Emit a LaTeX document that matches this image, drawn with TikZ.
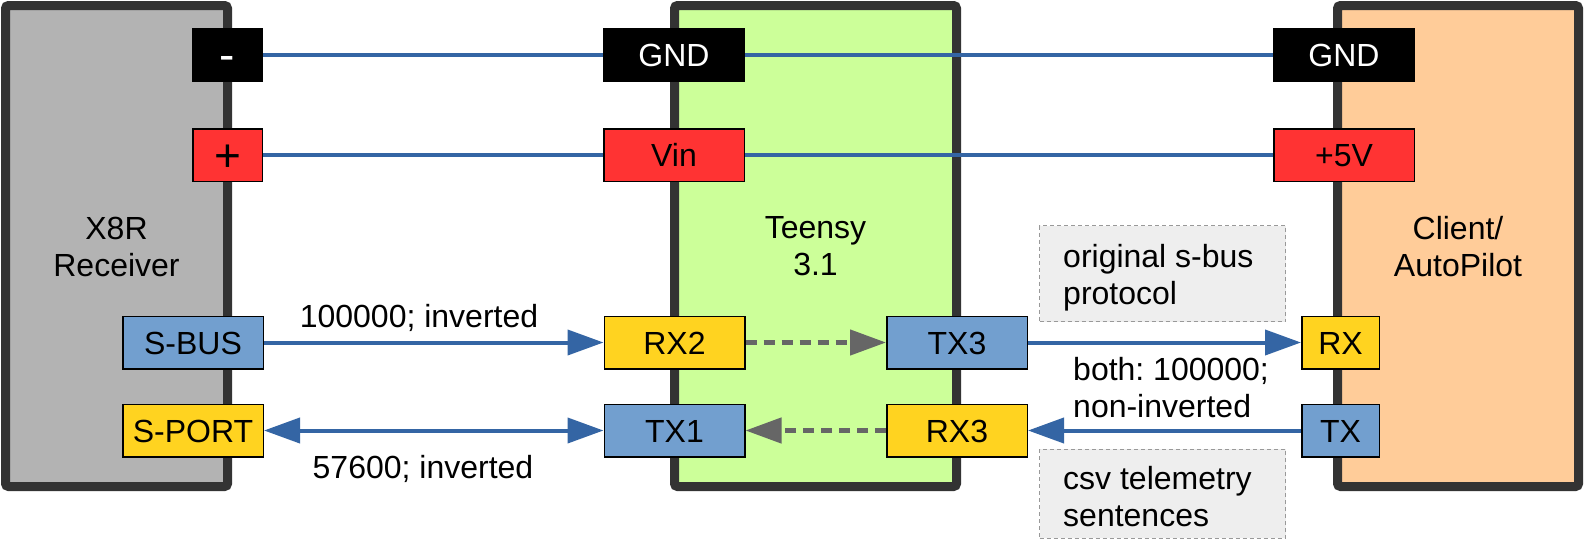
\documentclass[tikz,border=0pt]{standalone}
\usepackage{fontspec}
\setmainfont{Liberation Sans}
\usetikzlibrary{arrows.meta}
\frenchspacing
\definecolor{wire}{HTML}{3465A4}
\definecolor{devborder}{HTML}{333333}
\definecolor{recvfill}{HTML}{B3B3B3}
\definecolor{teensyfill}{HTML}{CCFF99}
\definecolor{clientfill}{HTML}{FFCC99}
\definecolor{portblue}{HTML}{729FCF}
\definecolor{portyellow}{HTML}{FFD320}
\definecolor{portred}{HTML}{FF3333}
\definecolor{dashgray}{HTML}{666666}
\definecolor{notefill}{HTML}{EEEEEE}
\definecolor{noteborder}{HTML}{999999}
\begin{document}
\begin{tikzpicture}[x=1pt,y=-1pt,
  font=\fontsize{32}{37}\selectfont\frenchspacing,
  device/.style={draw=devborder, line width=9pt, rounded corners=3pt, inner sep=0pt,
    minimum width=#1},
  device/.default=222pt,
  devlabel/.style={align=center, inner sep=0pt},
  port/.style={draw=black, line width=1.5pt, inner sep=0pt, minimum height=52.5pt,
    text height=23pt, text depth=0pt},
  bluep/.style={port, fill=portblue},
  yellowp/.style={port, fill=portyellow},
  redp/.style={port, fill=portred},
  blackp/.style={port, fill=black, text=white},
  bigsign/.style={font=\fontsize{46}{50}\selectfont},
  wireline/.style={draw=wire, line width=4pt},
  sigarrow/.style={draw=wire, line width=4pt, -{Triangle[length=36pt,width=25pt]}},
  sigboth/.style={draw=wire, line width=4pt, {Triangle[length=36pt,width=25pt]}-{Triangle[length=36pt,width=25pt]}},
  intarrow/.style={draw=dashgray, line width=4.5pt, dash pattern=on 11pt off 7pt,
    -{Triangle[length=36pt,width=25pt]}},
  notebox/.style={fill=notefill, draw=noteborder, line width=1pt, dash pattern=on 4pt off 3pt,
    inner sep=0pt, minimum width=246pt},
  plaintext/.style={inner sep=0pt, align=left}
]
\useasboundingbox (0,0) rectangle (1584,546);
\fill[white] (0,0) rectangle (1584,546);

% devices
\node[device=222pt, fill=recvfill, minimum height=481pt] (x8r) at (116.5,246) {};
\node[device=282pt, fill=teensyfill, minimum height=481pt] (teensy) at (815.5,246) {};
\node[device=241pt, fill=clientfill, minimum height=481pt] (client) at (1458,246) {};

\node[devlabel] (x8rlabel) at (116.5,246.5) {X8R\\Receiver};
\node[devlabel] (teensylabel) at (815.5,246.5) {Teensy\\3.1};
\node[devlabel] (clientlabel) at (1458,247) {Client/\\AutoPilot};

% notes
\node[notebox, minimum height=96pt] (note1) at (1162.5,273.5) {};
\node[notebox, minimum height=89pt] (note2) at (1162.5,493.5) {};
\node[plaintext, anchor=west] (note1txt) at (1063,278) {original s-bus\\protocol};
\node[plaintext, anchor=west] (note2txt) at (1063,497) {csv telemetry\\sentences};

% ports receiver
\node[blackp, minimum width=69.5pt, bigsign, text height=31pt] (minus) at (227.5,55) {-};
\node[redp, minimum width=69.5pt, bigsign, text height=32pt] (plus) at (227.5,155) {+};
\node[bluep, minimum width=140.5pt] (sbus) at (193,342.5) {S-BUS};
\node[yellowp, minimum width=140.5pt] (sport) at (193,430.5) {S-PORT};

% ports teensy
\node[blackp, minimum width=140.5pt] (tgnd) at (674,55) {GND};
\node[redp, minimum width=140.5pt] (tvin) at (674,155) {Vin};
\node[yellowp, minimum width=140.5pt] (rxtwo) at (674.5,342.5) {RX2};
\node[bluep, minimum width=140.5pt] (txone) at (674.5,430.5) {TX1};
\node[bluep, minimum width=140.5pt] (txthree) at (957,342.5) {TX3};
\node[yellowp, minimum width=140.5pt] (rxthree) at (957,430.5) {RX3};

% ports client
\node[blackp, minimum width=140.5pt] (cgnd) at (1344,55) {GND};
\node[redp, minimum width=140.5pt] (cfive) at (1344,155) {+5V};
\node[yellowp, minimum width=77.5pt] (crx) at (1340.5,342.5) {RX};
\node[bluep, minimum width=77.5pt] (ctx) at (1340.5,430.5) {TX};

% power wires
\draw[wireline] (minus.east) -- (tgnd.west);
\draw[wireline] (tgnd.east) -- (cgnd.west);
\draw[wireline] (plus.east) -- (tvin.west);
\draw[wireline] (tvin.east) -- (cfive.west);

% signals
\draw[sigarrow] (sbus.east) -- (rxtwo.west);
\draw[sigboth] (sport.east) -- (txone.west);
\draw[sigarrow] (txthree.east) -- (crx.west);
\draw[sigarrow] (ctx.west) -- (rxthree.east);
\draw[intarrow] (rxtwo.east) -- (txthree.west);
\draw[intarrow] (rxthree.west) -- (txone.east);

% labels
\node[inner sep=0pt, anchor=base] (lblsbus) at (419,327) {100000; inverted};
\node[inner sep=0pt, anchor=base] (lblsport) at (423,478) {57600; inverted};
\node[plaintext, anchor=west] (lblboth) at (1073,388) {both: 100000;\\non-inverted};
\end{tikzpicture}
\end{document}
